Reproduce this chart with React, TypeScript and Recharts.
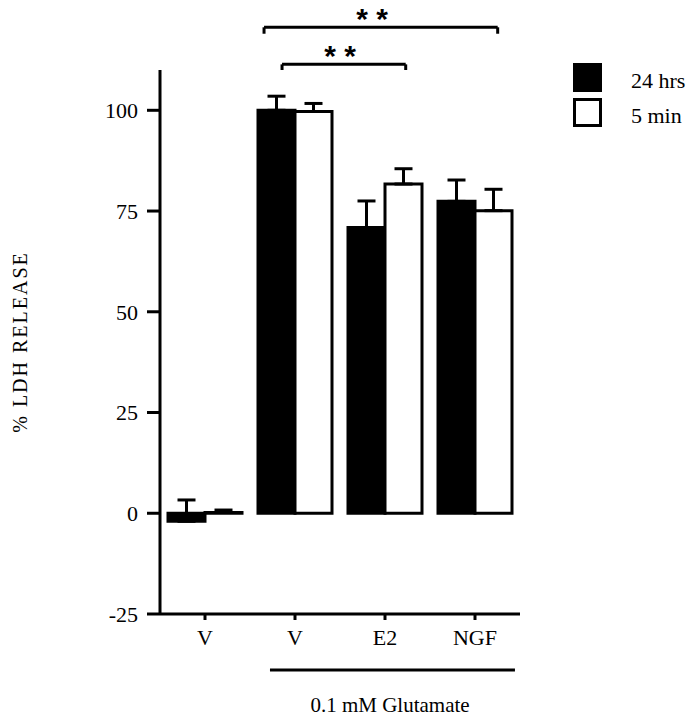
import React from 'react';
import {
  BarChart, Bar, XAxis, YAxis, ErrorBar, ReferenceLine, ReferenceDot, Legend,
} from 'recharts';

// ---- data ----
const groupLabels = ['V', 'V', 'E2', 'NGF'];
const hrs24 = [-2.0, 100, 70.9, 77.4];
const hrs24Err = [5.3, 3.5, 6.6, 5.3];
const min5 = [0.2, 99.7, 81.7, 75.1];
const min5Err = [0.6, 2.0, 3.8, 5.3];
const seriesNames = ['24 hrs', '5 min'];
const yTicks = [-25, 0, 25, 50, 75, 100];
const yLabel = '% LDH RELEASE';
const groupCaption = '0.1 mM Glutamate';
const sigMark = '* *';

// annotation placement in data units (hidden numeric x axis 0..4 over the 4 groups, y axis units)
const brackets = [
  { x1: 1.156, x2: 3.752, y: 120.6, yEnd: 119.0, starX: 2.356, starY: 124.5 },
  { x1: 1.356, x2: 2.73, y: 111.4, yEnd: 110.0, starX: 2.0, starY: 115.2 },
];
const caption = { x1: 1.222, x2: 3.944, y: -38.9, textX: 2.556, textY: -49.3 };

const data = groupLabels.map((g, i) => ({
  key: i,
  pos: i + 0.5,
  h24: hrs24[i],
  m5: min5[i],
  e24: [0, hrs24Err[i]],
  e5: [0, min5Err[i]],
}));

const FONT = '"Liberation Serif", "Times New Roman", serif';

const LegendContent = () => (
  <div style={{ fontFamily: FONT, fontSize: 22, color: '#000' }}>
    {seriesNames.map((n, i) => (
      <div key={n} style={{ display: 'flex', alignItems: 'center', height: 29, marginBottom: i === 0 ? 6 : 0 }}>
        <div
          style={{
            width: 29,
            height: 29,
            boxSizing: 'border-box',
            border: '3px solid #000',
            background: i === 0 ? '#000' : '#fff',
          }}
        />
        <span style={{ marginLeft: 29, position: 'relative', top: 3, whiteSpace: 'nowrap' }}>{n}</span>
      </div>
    ))}
  </div>
);

const StarShape = (props: any) => (
  <text
    x={props.cx}
    y={props.cy + 17}
    textAnchor="middle"
    fontFamily='"Liberation Sans", Arial, sans-serif'
    fontWeight="bold"
    fontSize={30}
    fill="#000"
  >
    {sigMark}
  </text>
);

const CaptionShape = (props: any) => (
  <text
    x={props.cx}
    y={props.cy}
    textAnchor="middle"
    fontFamily={FONT}
    fontSize={21}
    fill="#000"
  >
    {groupCaption}
  </text>
);

const YLabel = (props: any) => {
  const vb = props.viewBox || {};
  const cy = vb.y !== undefined ? vb.y + vb.height / 2 : 342;
  return (
    <text
      transform={`translate(27, ${cy}) rotate(-90)`}
      textAnchor="middle"
      fontFamily={FONT}
      fontSize={20}
      letterSpacing={2}
      fill="#000"
    >
      {yLabel}
    </text>
  );
};

export default function App() {
  const lineProps = { stroke: '#000', strokeWidth: 3, ifOverflow: 'visible' as const, xAxisId: 'n' };
  return (
    <div style={{ position: 'absolute', left: 0, top: 0, background: '#fff' }}>
      <BarChart
        width={697}
        height={720}
        data={data}
        margin={{ top: 70, right: 177, bottom: 76, left: 0 }}
        barCategoryGap={8}
        barGap={0}
      >
        <XAxis
          xAxisId="c"
          dataKey="key"
          type="category"
          height={30}
          tickFormatter={(_v: any, i: number) => groupLabels[i]}
          tick={{ fill: '#000', fontSize: 22, fontFamily: FONT }}
          tickSize={6}
          tickMargin={9}
          axisLine={{ stroke: '#000', strokeWidth: 3 }}
          tickLine={{ stroke: '#000', strokeWidth: 3 }}
          interval={0}
        />
        <XAxis xAxisId="n" dataKey="pos" type="number" domain={[0, 4]} allowDataOverflow hide />
        <YAxis
          width={160}
          domain={[-25, 110]}
          ticks={yTicks}
          allowDataOverflow
          tick={{ fill: '#000', fontSize: 22, fontFamily: FONT }}
          tickSize={13}
          tickMargin={9}
          axisLine={{ stroke: '#000', strokeWidth: 3 }}
          tickLine={{ stroke: '#000', strokeWidth: 3 }}
          label={<YLabel />}
        />
        <Legend
          layout="horizontal"
          verticalAlign="middle"
          align="center"
          wrapperStyle={{ top: 63, left: 573, width: 124 }}
          content={<LegendContent />}
        />
        <Bar xAxisId="c" dataKey="h24" name={seriesNames[0]} fill="#000" stroke="#000" strokeWidth={3} isAnimationActive={false}>
          <ErrorBar dataKey="e24" direction="y" width={9} stroke="#000" strokeWidth={3} isAnimationActive={false} />
        </Bar>
        <Bar xAxisId="c" dataKey="m5" name={seriesNames[1]} fill="#fff" stroke="#000" strokeWidth={3} isAnimationActive={false}>
          <ErrorBar dataKey="e5" direction="y" width={9} stroke="#000" strokeWidth={3} isAnimationActive={false} />
        </Bar>
        {brackets.map((b, i) => (
          <ReferenceLine key={`h${i}`} {...lineProps} segment={[{ x: b.x1, y: b.y }, { x: b.x2, y: b.y }]} />
        ))}
        {brackets.map((b, i) => (
          <ReferenceLine key={`l${i}`} {...lineProps} segment={[{ x: b.x1, y: b.y }, { x: b.x1, y: b.yEnd }]} />
        ))}
        {brackets.map((b, i) => (
          <ReferenceLine key={`r${i}`} {...lineProps} segment={[{ x: b.x2, y: b.y }, { x: b.x2, y: b.yEnd }]} />
        ))}
        {brackets.map((b, i) => (
          <ReferenceDot key={`s${i}`} xAxisId="n" x={b.starX} y={b.starY} r={0} ifOverflow="visible" shape={<StarShape />} />
        ))}
        <ReferenceLine {...lineProps} segment={[{ x: caption.x1, y: caption.y }, { x: caption.x2, y: caption.y }]} />
        <ReferenceDot xAxisId="n" x={caption.textX} y={caption.textY} r={0} ifOverflow="visible" shape={<CaptionShape />} />
      </BarChart>
    </div>
  );
}
